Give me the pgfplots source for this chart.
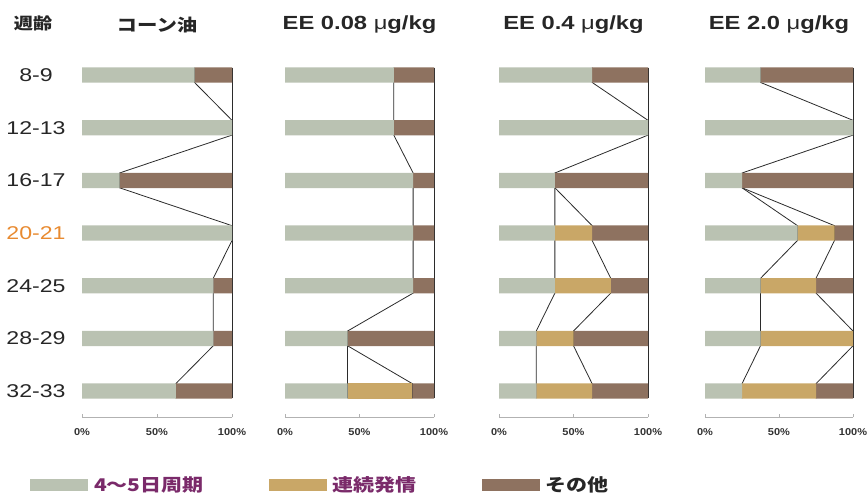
\documentclass[border=0pt]{standalone}
\usepackage{pgfplots}
\pgfplotsset{compat=1.18}
\usepackage{pgfplotstable}
\usepackage{fontspec}
\setmainfont{Liberation Sans}
\newfontfamily\lab{Liberation Sans}[FakeStretch=1.25]
\newfontfamily\tickf{Liberation Sans}[FakeStretch=1.1]
\newfontfamily\cjk{Noto Sans CJK JP}[FakeStretch=1.2]

\definecolor{gcol}{HTML}{BAC2B2}
\definecolor{tcol}{HTML}{C9A767}
\definecolor{bcol}{HTML}{8E7260}
\definecolor{lcol}{HTML}{2B2B2B}
\definecolor{pcol}{HTML}{7A2A6A}
\definecolor{ocol}{HTML}{E88A30}

% gray = 4-5 day cycle (a), tan = continuous estrus (b), brown = other (c), in %
\pgfplotstableread{
y a b c
0 75 0 25
1 100 0 0
2 25 0 75
3 100 0 0
4 87.5 0 12.5
5 87.5 0 12.5
6 62.5 0 37.5
}\PA
\pgfplotstableread{
y a b c
0 73 0 27
1 73 0 27
2 86 0 14
3 86 0 14
4 86 0 14
5 42 0 58
6 42 43.5 14.5
}\PB
\pgfplotstableread{
y a b c
0 62.5 0 37.5
1 100 0 0
2 37.5 0 62.5
3 37.5 25 37.5
4 37.5 37.5 25
5 25 25 50
6 25 37.5 37.5
}\PC
\pgfplotstableread{
y a b c
0 37.5 0 62.5
1 100 0 0
2 25 0 75
3 62.5 25 12.5
4 37.5 37.5 25
5 37.5 62.5 0
6 25 50 25
}\PD

\pgfplotsset{
 base/.style={
  scale only axis, width=150pt, height=368.7pt, anchor=south west,
  xmin=0, xmax=100, ymin=-0.5, ymax=6.5, y dir=reverse, clip=false},
 linepanel/.style={base, hide axis},
 panel/.style={base,
  xbar stacked, bar width=0.29,
  axis x line*=bottom, axis y line*=left,
  y axis line style={draw=none}, x axis line style={gray!60,-},
  xtick={0,50,100}, xticklabels={0\%,50\%,100\%},
  tick align=inside, xtick style={gray!60}, major tick length=3pt,
  ytick={0,...,6}, ytick style={draw=none}, yticklabels={},
  xticklabel style={font=\tickf\bfseries\fontsize{10}{12}\selectfont, text=black!80, anchor=center, yshift=-14.5pt},
  title style={font=\lab\bfseries\fontsize{19}{21}\selectfont, at={(0.5,1)}, anchor=center, yshift=18pt, text=black!85},
 },
 lin/.style={draw=lcol, line width=0.8pt, mark=none},
 seg/.style={draw=none, fill=#1},
}

\begin{document}
\begin{tikzpicture}
\path[use as bounding box] (0pt,0pt) rectangle (868pt,-503pt);
\node[font=\cjk\bfseries\fontsize{16}{18}\selectfont, text=black!85] at (33pt,-23pt) {週齢};

% Panel 1
\begin{axis}[linepanel, at={(82pt,-417.4pt)}]
\addplot[lin] coordinates {(75,-0.14)(75,0.14)(100,0.86)(100,1.14)(25,1.86)(25,2.14)(100,2.86)(100,3.14)(87.5,3.86)(87.5,4.14)(87.5,4.86)(87.5,5.14)(62.5,5.86)(62.5,6.14)};
\addplot[lin] coordinates {(100,-0.14)(100,6.14)};
\end{axis}
\begin{axis}[panel, at={(82pt,-417.4pt)}, title={\cjk\fontsize{17}{19}\selectfont コーン油},
  yticklabels={8-9,12-13,16-17,\textcolor{ocol}{20-21},24-25,28-29,32-33},
  yticklabel style={font=\lab\fontsize{18.5}{20}\selectfont, anchor=center, xshift=-46pt, text=black!85},
  legend style={at={(-0.3467,-0.1833)}, anchor=west, draw=none, fill=none, inner sep=0pt,
    legend columns=3, font=\cjk\bfseries\fontsize{17.5}{19}\selectfont,
    /tikz/every odd column/.append style={column sep=4pt},
    /tikz/every even column/.append style={column sep=63pt}},
  legend cell align=left]
\addplot[seg=gcol, legend image code/.code={\fill[gcol] (0pt,-6pt) rectangle (58pt,6pt);}] table[y=y, x=a] {\PA};
\addlegendentry{\textcolor{pcol}{4～5日周期}}
\addplot[seg=tcol, legend image code/.code={\fill[tcol] (0pt,-6pt) rectangle (58pt,6pt);}] table[y=y, x=b] {\PA};
\addlegendentry{\textcolor{pcol}{連続発情}}
\addplot[seg=bcol, legend image code/.code={\fill[bcol] (0pt,-6pt) rectangle (58pt,6pt);}] table[y=y, x=c] {\PA};
\addlegendentry{\textcolor{black!85}{その他}}
\end{axis}

% Panel 2
\begin{axis}[linepanel, at={(285pt,-417.4pt)}, width=149pt]
\addplot[lin] coordinates {(73,-0.14)(73,0.14)(73,0.86)(73,1.14)(86,1.86)(86,2.14)(86,2.86)(86,3.14)(86,3.86)(86,4.14)(42,4.86)(42,5.14)(42,5.86)(42,6.14)};
\addplot[lin] coordinates {(42,4.86)(42,5.14)(85.5,5.86)(85.5,6.14)};
\addplot[lin] coordinates {(100,-0.14)(100,6.14)};
\end{axis}
\begin{axis}[panel, at={(285pt,-417.4pt)}, width=149pt, title={EE 0.08 {\mdseries μ}g/kg}]
\addplot[seg=gcol] table[y=y, x=a] {\PB};
\addplot[seg=tcol] table[y=y, x=b] {\PB};
\addplot[seg=bcol] table[y=y, x=c] {\PB};
\end{axis}

% Panel 3
\begin{axis}[linepanel, at={(499pt,-417.4pt)}, width=149pt]
\addplot[lin] coordinates {(62.5,-0.14)(62.5,0.14)(100,0.86)(100,1.14)(37.5,1.86)(37.5,2.14)(37.5,2.86)(37.5,3.14)(37.5,3.86)(37.5,4.14)(25,4.86)(25,5.14)(25,5.86)(25,6.14)};
\addplot[lin] coordinates {(37.5,1.86)(37.5,2.14)(62.5,2.86)(62.5,3.14)(75,3.86)(75,4.14)(50,4.86)(50,5.14)(62.5,5.86)(62.5,6.14)};
\addplot[lin] coordinates {(100,-0.14)(100,6.14)};
\end{axis}
\begin{axis}[panel, at={(499pt,-417.4pt)}, width=149pt, title={EE 0.4 {\mdseries μ}g/kg}]
\addplot[seg=gcol] table[y=y, x=a] {\PC};
\addplot[seg=tcol] table[y=y, x=b] {\PC};
\addplot[seg=bcol] table[y=y, x=c] {\PC};
\end{axis}

% Panel 4
\begin{axis}[linepanel, at={(705pt,-417.4pt)}, width=148pt]
\addplot[lin] coordinates {(37.5,-0.14)(37.5,0.14)(100,0.86)(100,1.14)(25,1.86)(25,2.14)(62.5,2.86)(62.5,3.14)(37.5,3.86)(37.5,4.14)(37.5,4.86)(37.5,5.14)(25,5.86)(25,6.14)};
\addplot[lin] coordinates {(25,1.86)(25,2.14)(87.5,2.86)(87.5,3.14)(75,3.86)(75,4.14)(100,4.86)(100,5.14)(75,5.86)(75,6.14)};
\addplot[lin] coordinates {(100,-0.14)(100,6.14)};
\end{axis}
\begin{axis}[panel, at={(705pt,-417.4pt)}, width=148pt, title={EE 2.0 {\mdseries μ}g/kg}]
\addplot[seg=gcol] table[y=y, x=a] {\PD};
\addplot[seg=tcol] table[y=y, x=b] {\PD};
\addplot[seg=bcol] table[y=y, x=c] {\PD};
\end{axis}
\end{tikzpicture}
\end{document}
